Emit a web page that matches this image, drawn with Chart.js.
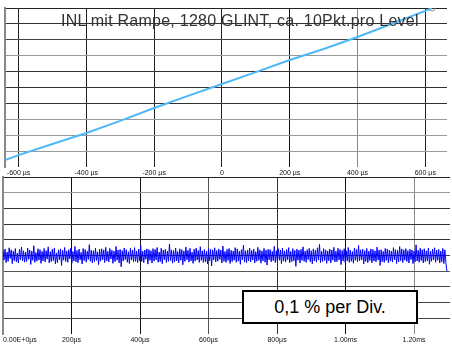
<!DOCTYPE html>
<html>
<head>
<meta charset="utf-8">
<script src="https://cdn.jsdelivr.net/npm/chart.js@4"></script>
<style>
  html, body { margin: 0; padding: 0; background: #fff; }
  #wrap { position: relative; width: 452px; height: 345px; overflow: hidden; font-family: Arial, "Liberation Sans", sans-serif; }
  #topChart { position: absolute; left: 0; top: 0; }
  #bottomChart { position: absolute; left: 0; top: 170px; }
  .title { position: absolute; left: 61px; top: 13px; font-size: 16px; line-height: 16px; letter-spacing: 0.25px; color: #333; white-space: nowrap; }
  .note { position: absolute; left: 242px; top: 290px; width: 172px; height: 30px; border: 2px solid #000; background: #fff;
          font-size: 18px; line-height: 30px; text-align: center; color: #000; }
</style>
</head>
<body>
<div id="wrap">
  <canvas id="topChart" width="452" height="176"></canvas>
  <canvas id="bottomChart" width="452" height="175"></canvas>
  <div class="title">INL mit Rampe, 1280 GLINT, ca. 10Pkt.pro Level</div>
  <div class="note">0,1 % per Div.</div>
</div>
<script>
// INL ramp (top) and residual noise (bottom)

// top panel: ramp, time in µs vs level (divisions)
const rampTimes = [-640, -600, -500, -400, -300, -200, -100, 0, 100, 200, 300, 400, 500, 600, 620];
const rampLevels = [0.44, 0.75, 1.45, 2.14, 2.9, 3.71, 4.47, 5.22, 5.97, 6.73, 7.42, 8.18, 8.99, 9.82, 10.0];
const topTickValues = [-600, -400, -200, 0, 200, 400, 600];
const topTickLabels = ['-600 µs', '-400 µs', '-200 µs', '0', '200 µs', '400 µs', '600 µs'];
const topLevelTicks = [0, 1, 2, 3, 4, 5, 6, 7, 8, 9, 10];

// bottom panel: deviation in %, one sample every 3 µs
const noiseStepUs = 3;
const noiseValues = [
  0.034, -0.028, 0.041, -0.045, 0.022, -0.037, 0.049, -0.019, 0.036, -0.052, 0.027, -0.033,
  0.044, -0.040, 0.015, -0.048, 0.039, -0.026, 0.053, -0.035, 0.030, -0.042, 0.021, -0.038,
  0.047, -0.024, 0.035, -0.057, 0.028, -0.031, 0.062, -0.044, 0.019, -0.036, 0.043, -0.029,
  0.038, -0.050, 0.026, -0.034, 0.045, -0.041, 0.031, -0.023, 0.055, -0.047, 0.024, -0.039,
  0.040, -0.032, 0.048, -0.053, 0.017, -0.045, 0.036, -0.027, 0.042, -0.064, 0.033, -0.030,
  0.051, -0.038, 0.029, -0.043, 0.037, -0.021, 0.046, -0.049, 0.025, -0.035, 0.058, -0.040,
  0.032, -0.046, 0.041, -0.028, 0.020, -0.054, 0.044, -0.033, 0.038, -0.042, 0.027, -0.025,
  0.069, -0.037, 0.034, -0.048, 0.030, -0.039, 0.047, -0.031, 0.023, -0.058, 0.040, -0.036,
  0.043, -0.027, 0.036, -0.045, 0.052, -0.034, 0.026, -0.041, 0.045, -0.022, 0.033, -0.050,
  0.028, -0.039, 0.057, -0.030, 0.035, -0.047, 0.039, -0.072, 0.031, -0.035, 0.048, -0.026,
  0.037, -0.043, 0.024, -0.051, 0.046, -0.029, 0.034, -0.040, 0.050, -0.037, 0.029, -0.045,
  0.041, -0.033, 0.063, -0.038, 0.027, -0.046, 0.035, -0.024, 0.042, -0.055, 0.038, -0.031,
  0.030, -0.048, 0.044, -0.036, 0.039, -0.028, 0.051, -0.043, 0.022, -0.039, 0.046, -0.052,
  0.035, -0.026, 0.040, -0.044, 0.028, -0.037, 0.074, -0.032, 0.036, -0.049, 0.031, -0.041,
  0.048, -0.035, 0.025, -0.047, 0.043, -0.030, 0.037, -0.059, 0.029, -0.038, 0.054, -0.027,
  0.033, -0.042, 0.046, -0.034, 0.021, -0.050, 0.040, -0.036, 0.047, -0.028, 0.032, -0.044,
  0.056, -0.031, 0.030, -0.045, 0.038, -0.040, 0.027, -0.053, 0.044, -0.033, 0.039, -0.067,
  0.036, -0.029, 0.049, -0.041, 0.031, -0.036, 0.042, -0.025, 0.034, -0.048, 0.060, -0.037,
  0.025, -0.044, 0.039, -0.032, 0.045, -0.051, 0.033, -0.039, 0.028, -0.030, 0.050, -0.043,
  0.042, -0.036, 0.027, -0.056, 0.037, -0.027, 0.066, -0.042, 0.030, -0.046, 0.035, -0.034,
  0.047, -0.040, 0.032, -0.029, 0.041, -0.047, 0.024, -0.037, 0.052, -0.031, 0.036, -0.049,
  0.029, -0.035, 0.045, -0.043, 0.034, -0.061, 0.040, -0.028, 0.038, -0.040, 0.026, -0.033,
  0.058, -0.045, 0.031, -0.038, 0.043, -0.030, 0.035, -0.052, 0.047, -0.036, 0.029, -0.042,
  0.038, -0.027, 0.050, -0.046, 0.026, -0.039, 0.044, -0.034, 0.032, -0.069, 0.041, -0.030,
  0.034, -0.048, 0.039, -0.031, 0.055, -0.037, 0.028, -0.044, 0.037, -0.026, 0.045, -0.040,
  0.030, -0.053, 0.042, -0.035, 0.033, -0.042, 0.049, -0.029, 0.071, -0.045, 0.027, -0.038,
  0.044, -0.032, 0.036, -0.050, 0.029, -0.034, 0.041, -0.047, 0.035, -0.030, 0.052, -0.041,
  0.027, -0.039, 0.046, -0.028, 0.038, -0.058, 0.032, -0.036, 0.043, -0.043, 0.030, -0.035,
  0.051, -0.044, 0.034, -0.037, 0.025, -0.049, 0.047, -0.031, 0.039, -0.040, 0.064, -0.033,
  0.036, -0.028, 0.040, -0.054, 0.031, -0.038, 0.045, -0.045, 0.028, -0.032, 0.042, -0.047,
  0.039, -0.035, 0.030, -0.041, 0.053, -0.029, 0.035, -0.063, 0.037, -0.039, 0.026, -0.044,
  0.045, -0.031, 0.041, -0.046, 0.034, -0.036, 0.029, -0.042, 0.050, -0.027, 0.038, -0.051,
  0.032, -0.040, 0.057, -0.033, 0.042, -0.045, 0.036, -0.030, 0.044, -0.038, 0.031, -0.048,
  0.040, -0.026, 0.035, -0.052, 0.028, -0.041, 0.068, -0.035, 0.033, -0.043, 0.046, -0.032,
  0.037, -0.047, 0.043, -0.039, 0.030, -0.034, 0.048, -0.056, 0.026, -0.037, 0.041, -0.029,
  0.049, -0.043, 0.034, -0.031, 0.039, -0.048, 0.028, -0.040, 0.045, -0.052, 0.036, -0.045,
  -0.100
];
const bottomTickValues = [0, 200, 400, 600, 800, 1000, 1200, 1305];
const bottomTickLabels = ['0.00E+0µs', '200µs', '400µs', '600µs', '800µs', '1.00ms', '1.20ms', ''];
const percentTicks = [-0.5, -0.4, -0.3, -0.2, -0.1, 0, 0.1, 0.2, 0.3, 0.4, 0.5];

// grid shades
const topXGrid = ['#222', '#222', '#222', '#222', '#111', '#888', '#222'];
const topYGrid = ['rgba(0,0,0,0)', '#999', '#999', '#999', '#333', '#333', '#333', '#999', '#444', '#333', '#222'];
const bottomXGrid = ['rgba(0,0,0,0)', '#111', '#111', '#555', '#333', '#111', '#888', 'rgba(0,0,0,0)'];
const bottomYGrid = ['rgba(0,0,0,0)', '#444', '#444', '#444', '#555', '#444', '#333', '#333', '#333', '#999', '#222'];

const tickFont = { family: 'Arial, "Liberation Sans", sans-serif', size: 7 };

new Chart(document.getElementById('topChart'), {
    type: 'line',
    data: {
        datasets: [{
            data: rampTimes.map((t, i) => ({ x: t, y: rampLevels[i] })),
            borderColor: '#4db8f5',
            borderWidth: 2,
            tension: 0,
            pointRadius: ctx => ctx.dataIndex === rampTimes.length - 1 ? 3 : 0,
            pointBorderColor: '#999',
            pointBackgroundColor: 'rgba(255,255,255,0)',
            pointBorderWidth: 1
        }]
    },
    options: {
        responsive: false,
        animation: false,
        layout: { padding: { left: 3, right: 0, top: 8, bottom: 0 } },
        plugins: { legend: { display: false }, tooltip: { enabled: false } },
        scales: {
            x: {
                type: 'linear',
                min: -640,
                max: 664,
                afterBuildTicks: axis => { axis.ticks = topTickValues.map(v => ({ value: v })); },
                afterFit: axis => { axis.height = 9; },
                grid: { color: ctx => topXGrid[ctx.index] || '#222', drawTicks: false, lineWidth: 1 },
                border: { display: false },
                ticks: {
                    autoSkip: false, maxRotation: 0, padding: 2,
                    font: tickFont, color: '#111',
                    callback: (value, index) => topTickLabels[index]
                }
            },
            y: {
                min: 0,
                max: 10,
                afterBuildTicks: axis => { axis.ticks = topLevelTicks.map(v => ({ value: v })); },
                afterFit: axis => { axis.width = 0; },
                grid: { color: ctx => topYGrid[ctx.index] || '#333', drawTicks: false, lineWidth: 1 },
                border: { display: true, color: '#888', width: 2 },
                ticks: { display: false }
            }
        }
    }
});

new Chart(document.getElementById('bottomChart'), {
    type: 'line',
    data: {
        datasets: [{
            data: noiseValues.map((v, i) => ({ x: i * noiseStepUs, y: v })),
            borderColor: '#0000ff',
            borderWidth: 1,
            tension: 0,
            pointRadius: 0
        }]
    },
    options: {
        responsive: false,
        animation: false,
        layout: { padding: { left: 3, right: 0, top: 7, bottom: 0 } },
        plugins: { legend: { display: false }, tooltip: { enabled: false } },
        scales: {
            x: {
                type: 'linear',
                min: 0,
                max: 1305,
                afterBuildTicks: axis => { axis.ticks = bottomTickValues.map(v => ({ value: v })); },
                afterFit: axis => { axis.height = 11; },
                grid: { color: ctx => bottomXGrid[ctx.index] || '#222', drawTicks: false, lineWidth: 1 },
                border: { display: false },
                ticks: {
                    autoSkip: false, maxRotation: 0, padding: 2, align: 'inner',
                    font: tickFont, color: '#111',
                    callback: (value, index) => bottomTickLabels[index]
                }
            },
            y: {
                min: -0.5,
                max: 0.5,
                afterBuildTicks: axis => { axis.ticks = percentTicks.map(v => ({ value: v })); },
                afterFit: axis => { axis.width = 0; },
                grid: { color: ctx => bottomYGrid[ctx.index] || '#333', drawTicks: false, lineWidth: 1 },
                border: { display: true, color: '#888', width: 2 },
                ticks: { display: false }
            }
        }
    }
});
</script>
</body>
</html>
